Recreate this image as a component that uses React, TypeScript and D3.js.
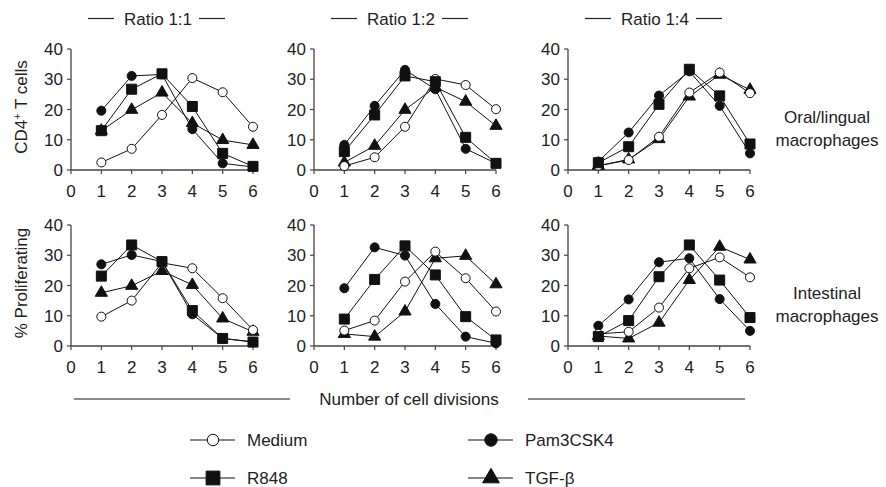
import React from 'react'
import { scaleLinear, line, symbol, symbolCircle, symbolSquare, symbolTriangle } from 'd3'

// x values (number of cell divisions)
const divisions = [1, 2, 3, 4, 5, 6]
const xTicks = [0, 1, 2, 3, 4, 5, 6]
const yTicks = [0, 10, 20, 30, 40]
const ratios = ['Ratio 1:1', 'Ratio 1:2', 'Ratio 1:4']
const seriesNames = ['Medium', 'Pam3CSK4', 'R848', 'TGF-β']

// Oral/lingual macrophages
const oral11Medium = [2.5, 7, 18.2, 30.4, 25.7, 14.3]
const oral11Pam = [19.6, 31.1, 31.6, 13.5, 2.2, 1]
const oral11R848 = [13, 26.7, 31.8, 21, 5.5, 1.2]
const oral11Tgf = [13, 19.9, 25.6, 15.5, 9.9, 8.3]

const oral12Medium = [1.3, 4.2, 14.3, 30.1, 28.1, 20.1]
const oral12Pam = [8.3, 21.2, 33.1, 26.7, 7, 2.2]
const oral12R848 = [6.1, 18.2, 31.1, 29.2, 10.8, 2.2]
const oral12Tgf = [2.5, 8, 19.9, 27.4, 22.6, 14.6]

const oral14Medium = [1.4, 3.3, 11, 25.6, 32.2, 25.4]
const oral14Pam = [2.8, 12.4, 24.6, 32.6, 21.2, 5.5]
const oral14R848 = [2.4, 7.7, 21.7, 33.3, 24.5, 8.6]
const oral14Tgf = [1.4, 3.5, 10.2, 24.3, 31.5, 26.5]

// Intestinal macrophages
const int11Medium = [9.7, 15, 27.5, 25.7, 15.8, 5.3]
const int11Pam = [27, 30.1, 27.9, 10.5, 2.5, 1.4]
const int11R848 = [23.1, 33.4, 27.9, 11.7, 2.5, 1.3]
const int11Tgf = [17.6, 19.9, 24.8, 20.2, 9.1, 4.7]

const int12Medium = [5.1, 8.4, 21.3, 31.2, 22.4, 11.4]
const int12Pam = [19.1, 32.6, 29.9, 13.9, 3.1, 0.9]
const int12R848 = [8.9, 22, 33.1, 23.5, 9.7, 2]
const int12Tgf = [4, 3.1, 11.4, 29, 29.8, 20.4]

const int14Medium = [4, 4.7, 12.7, 25.7, 29.3, 22.7]
const int14Pam = [6.7, 15.4, 27.7, 29, 15.5, 5]
const int14R848 = [3.1, 8.4, 22.9, 33.4, 21.8, 9.4]
const int14Tgf = [3.3, 2.5, 7.7, 21.8, 32.8, 28.6]

const rows = [
  {
    label: ['Oral/lingual', 'macrophages'],
    panels: [
      [oral11Medium, oral11Pam, oral11R848, oral11Tgf],
      [oral12Medium, oral12Pam, oral12R848, oral12Tgf],
      [oral14Medium, oral14Pam, oral14R848, oral14Tgf],
    ],
  },
  {
    label: ['Intestinal', 'macrophages'],
    panels: [
      [int11Medium, int11Pam, int11R848, int11Tgf],
      [int12Medium, int12Pam, int12R848, int12Tgf],
      [int14Medium, int14Pam, int14R848, int14Tgf],
    ],
  },
]

const font = '"Liberation Sans", Arial, Helvetica, sans-serif'
const fs = 17
const axisColor = '#444'

const panelLeft = [71, 314, 568]
const panelWidth = 182
const rowBottom = [170, 346]
const panelHeight = 121

const shapes = [symbolCircle, symbolCircle, symbolSquare, symbolTriangle]
const sizes = [64, 64, 100, 64]
const fills = ['#fff', '#111', '#111', '#111']
const drawOrder = [3, 1, 0, 2]

function Marker({ i, x, y, scale = 1 }) {
  const path = symbol().type(shapes[i]).size(sizes[i] * scale)()
  return (
    <path d={path} transform={`translate(${x},${y})`} fill={fills[i]} stroke="#111" strokeWidth={1} />
  )
}

function Panel({ left, bottom, data }) {
  const x = scaleLinear().domain([0, 6]).range([left, left + panelWidth])
  const y = scaleLinear().domain([0, 40]).range([bottom, bottom - panelHeight])
  const ln = line<number>().x((d, k) => x(divisions[k])).y(d => y(d))
  return (
    <g>
      <line x1={x(0)} x2={x(6)} y1={y(0)} y2={y(0)} stroke={axisColor} strokeWidth={1.3} />
      <line x1={x(0)} x2={x(0)} y1={y(0)} y2={y(40)} stroke={axisColor} strokeWidth={1.3} />
      {xTicks.map(t => (
        <g key={'x' + t}>
          <line x1={x(t)} x2={x(t)} y1={y(0)} y2={y(0) + 4} stroke={axisColor} strokeWidth={1.2} />
          <text x={x(t)} y={y(0) + 27} textAnchor="middle" fontSize={fs} fontFamily={font} fill="#222">{t}</text>
        </g>
      ))}
      {yTicks.map(t => (
        <g key={'y' + t}>
          <line x1={x(0) - 4} x2={x(0)} y1={y(t)} y2={y(t)} stroke={axisColor} strokeWidth={1.2} />
          <text x={x(0) - 8} y={y(t) + 6} textAnchor="end" fontSize={fs} fontFamily={font} fill="#222">{t}</text>
        </g>
      ))}
      {data.map((s, i) => (
        <path key={'l' + i} d={ln(s)} fill="none" stroke="#111" strokeWidth={1} />
      ))}
      {drawOrder.map(i =>
        data[i].map((v, k) => <Marker key={i + '-' + k} i={i} x={x(divisions[k])} y={y(v)} />)
      )}
    </g>
  )
}

export default function App() {
  const legend = [
    { i: 0, x: 213, y: 440 },
    { i: 1, x: 491, y: 440 },
    { i: 2, x: 213, y: 478 },
    { i: 3, x: 491, y: 478 },
  ]
  return (
    <svg width={886} height={487} style={{ position: 'absolute', left: 0, top: 0, background: '#fff' }}>
      {ratios.map((r, c) => {
        const cx = panelLeft[c] + panelWidth / 2 - 4
        return (
          <g key={r}>
            <text x={cx} y={25} textAnchor="middle" fontSize={fs} fontFamily={font} fill="#222">{r}</text>
            <line x1={cx - 70} x2={cx - 44} y1={18.5} y2={18.5} stroke="#222" strokeWidth={1.2} />
            <line x1={cx + 41} x2={cx + 67} y1={18.5} y2={18.5} stroke="#222" strokeWidth={1.2} />
          </g>
        )
      })}
      {rows.map((row, r) => (
        <g key={'row' + r}>
          {row.panels.map((p, c) => (
            <Panel key={c} left={panelLeft[c]} bottom={rowBottom[r]} data={p} />
          ))}
          <text x={827} y={rowBottom[r] - 47} textAnchor="middle" fontSize={fs} fontFamily={font} fill="#222">{row.label[0]}</text>
          <text x={827} y={rowBottom[r] - 24} textAnchor="middle" fontSize={fs} fontFamily={font} fill="#222">{row.label[1]}</text>
        </g>
      ))}
      <text transform="translate(27,107) rotate(-90)" textAnchor="middle" fontSize={fs} fontFamily={font} fill="#222">
        CD4<tspan dy={-6} fontSize={11}>+</tspan><tspan dy={6}> T cells</tspan>
      </text>
      <text transform="translate(27,283) rotate(-90)" textAnchor="middle" fontSize={fs} fontFamily={font} fill="#222">
        % Proliferating
      </text>
      <line x1={74} x2={290} y1={399} y2={399} stroke="#666" strokeWidth={1.5} />
      <line x1={528} x2={745} y1={399} y2={399} stroke="#666" strokeWidth={1.5} />
      <text x={409} y={405} textAnchor="middle" fontSize={fs} fontFamily={font} fill="#222">Number of cell divisions</text>
      {legend.map(l => (
        <g key={'lg' + l.i}>
          <line x1={l.x - 23} x2={l.x + 22} y1={l.y} y2={l.y} stroke="#111" strokeWidth={1.2} />
          <Marker i={l.i} x={l.x} y={l.y} scale={l.i === 0 ? 1.6 : 1.9} />
          <text x={l.x + 34} y={l.y + 6} fontSize={fs} fontFamily={font} fill="#222">{seriesNames[l.i]}</text>
        </g>
      ))}
    </svg>
  )
}
